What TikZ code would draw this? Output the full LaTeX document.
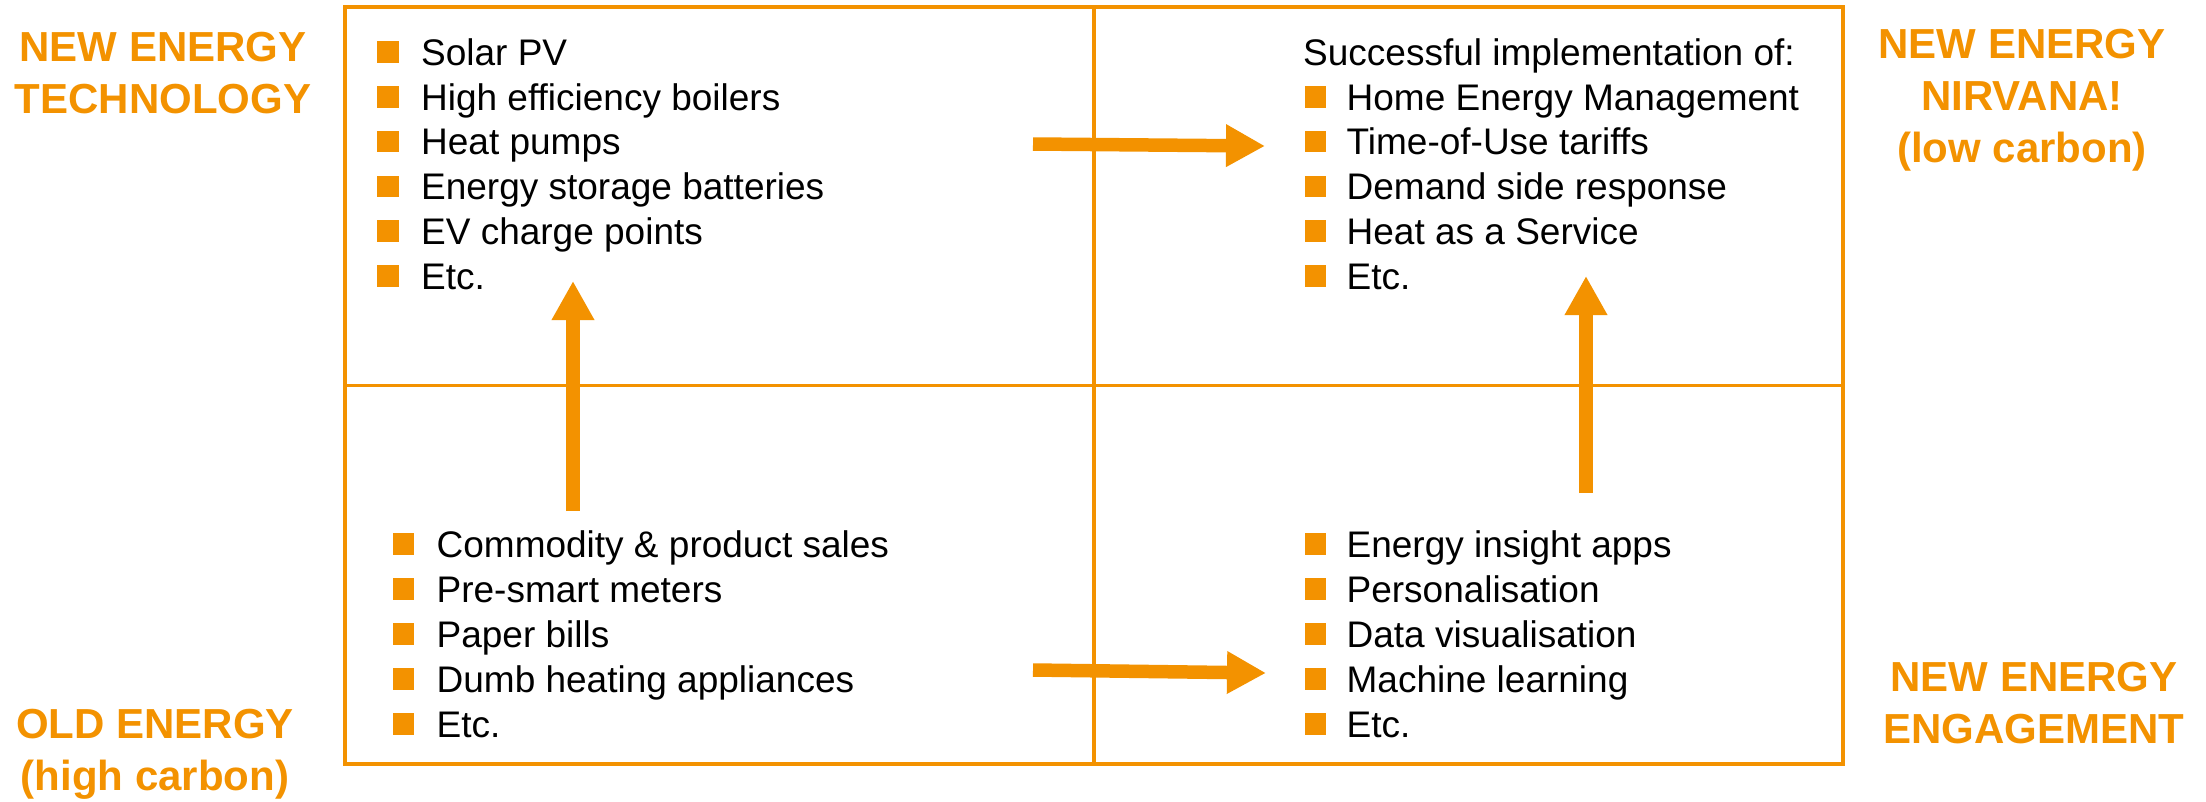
\documentclass[tikz,border=0pt]{standalone}
\usepackage{fontspec}
\setmainfont{Liberation Sans}
\usepackage{xcolor}
\usetikzlibrary{arrows.meta, positioning}
\definecolor{energyorange}{RGB}{243,146,0}

\begin{document}
\begin{tikzpicture}[x=1pt, y=-1pt, node distance=22pt]

		% Define styles
		\tikzstyle{quadrant} = [rectangle, draw=energyorange, line width=3.5pt, minimum width=749pt, minimum height=378.5pt, inner sep=0pt]
		\tikzstyle{bulletsq} = [rectangle, fill=energyorange, minimum size=21.5pt, inner sep=0pt]
		\tikzstyle{itemtext} = [anchor=west, inner sep=0pt, text height=26.5pt, text depth=0pt, font=\fontsize{37}{45}\selectfont]
		\tikzstyle{corner} = [align=center, inner sep=0pt, text=energyorange, font=\fontsize{42}{52}\selectfont\bfseries]
		\tikzstyle{bigarrow} = [draw=energyorange, line width=13.5pt, -{Triangle[length=39pt, width=40pt]}]

		\useasboundingbox (0,0) rectangle (2206,801);

		% Quadrants
		\node[quadrant] (tech) at (719.5,196) {};
		\node[quadrant] (nirvana) at (1468.5,196) {};
		\node[quadrant] (old) at (719.5,574.5) {};
		\node[quadrant] (engage) at (1468.5,574.5) {};

		% Top left list
		\foreach \txt [count=\i] in {Solar PV, High efficiency boilers, Heat pumps, Energy storage batteries, EV charge points, Etc.}
		{
			\node[bulletsq] (tech-b\i) at (388,{52+44.8*(\i-1)}) {};
			\node[itemtext, right=of tech-b\i] (tech-t\i) {\txt};
		}

		% Top right list
		\node[itemtext] (nirvana-head) at (1303,52) {Successful implementation of:};
		\foreach \txt [count=\i] in {Home Energy Management, Time-of-Use tariffs, Demand side response, Heat as a Service, Etc.}
		{
			\node[bulletsq] (nirvana-b\i) at (1315.5,{52+44.8*\i}) {};
			\node[itemtext, right=20pt of nirvana-b\i] (nirvana-t\i) {\txt};
		}

		% Bottom left list
		\foreach \txt [count=\i] in {Commodity \& product sales, Pre-smart meters, Paper bills, Dumb heating appliances, Etc.}
		{
			\node[bulletsq] (old-b\i) at (403.5,{544+45*(\i-1)}) {};
			\node[itemtext, right=of old-b\i] (old-t\i) {\txt};
		}

		% Bottom right list
		\foreach \txt [count=\i] in {Energy insight apps, Personalisation, Data visualisation, Machine learning, Etc.}
		{
			\node[bulletsq] (engage-b\i) at (1315.5,{544+45*(\i-1)}) {};
			\node[itemtext, right=20pt of engage-b\i] (engage-t\i) {\txt};
		}

		% Corner labels
		\node[corner] (tech-label) at (163,73) {NEW ENERGY\\TECHNOLOGY};
		\node[corner] (nirvana-label) at (2022,100.4) {NEW ENERGY\\NIRVANA!\\(low carbon)};
		\node[corner] (engage-label) at (2034,703) {NEW ENERGY\\ENGAGEMENT};
		\node[corner] (old-label) at (155,754.4) {OLD ENERGY\\(high carbon)};

		% Arrows
		\coordinate (tech-nirvana-start) at (1033,144);
		\coordinate (tech-nirvana-end) at (1265,146);
		\coordinate (old-engage-start) at (1033,670);
		\coordinate (old-engage-end) at (1266,673);
		\coordinate (old-tech-start) at (573,511);
		\coordinate (old-tech-end) at (573,281);
		\coordinate (engage-nirvana-start) at (1586,493);
		\coordinate (engage-nirvana-end) at (1586,276);

		\draw[bigarrow] (tech-nirvana-start) -- (tech-nirvana-end);
		\draw[bigarrow] (old-engage-start) -- (old-engage-end);
		\draw[bigarrow] (old-tech-start) -- (old-tech-end);
		\draw[bigarrow] (engage-nirvana-start) -- (engage-nirvana-end);

	\end{tikzpicture}
\end{document}
